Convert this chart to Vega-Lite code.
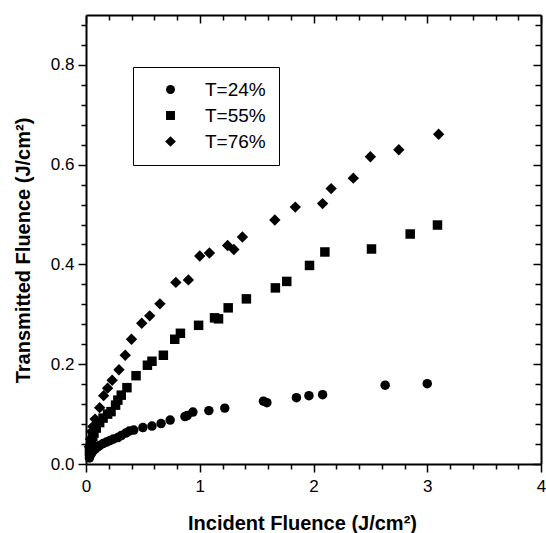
{
  "$schema": "https://vega.github.io/schema/vega-lite/v6.json",
  "width": 455,
  "height": 449,
  "autosize": "none",
  "padding": {"left": 86, "top": 15, "right": 5, "bottom": 69},
  "background": "white",
  "config": {
    "view": {"stroke": null},
    "font": "Liberation Sans",
    "axis": {
      "grid": false,
      "domainColor": "black",
      "domainWidth": 2,
      "tickColor": "black",
      "tickWidth": 1.5,
      "labelColor": "black",
      "labelFont": "Liberation Sans",
      "labelFontSize": 17,
      "labelOverlap": false,
      "titleFont": "Liberation Sans",
      "titleFontSize": 20,
      "titleFontWeight": "bold",
      "titleColor": "black"
    }
  },
  "data": {
    "values": [
      {"series": "T=24%", "inc": 0.03, "trans": 0.012},
      {"series": "T=24%", "inc": 0.04, "trans": 0.018},
      {"series": "T=24%", "inc": 0.05, "trans": 0.022},
      {"series": "T=24%", "inc": 0.065, "trans": 0.027},
      {"series": "T=24%", "inc": 0.08, "trans": 0.030},
      {"series": "T=24%", "inc": 0.10, "trans": 0.034},
      {"series": "T=24%", "inc": 0.12, "trans": 0.037},
      {"series": "T=24%", "inc": 0.15, "trans": 0.041},
      {"series": "T=24%", "inc": 0.18, "trans": 0.044},
      {"series": "T=24%", "inc": 0.21, "trans": 0.047},
      {"series": "T=24%", "inc": 0.24, "trans": 0.050},
      {"series": "T=24%", "inc": 0.28, "trans": 0.053},
      {"series": "T=24%", "inc": 0.31, "trans": 0.057},
      {"series": "T=24%", "inc": 0.35, "trans": 0.062},
      {"series": "T=24%", "inc": 0.38, "trans": 0.066},
      {"series": "T=24%", "inc": 0.42, "trans": 0.068},
      {"series": "T=24%", "inc": 0.50, "trans": 0.073},
      {"series": "T=24%", "inc": 0.58, "trans": 0.076},
      {"series": "T=24%", "inc": 0.66, "trans": 0.081},
      {"series": "T=24%", "inc": 0.74, "trans": 0.088},
      {"series": "T=24%", "inc": 0.87, "trans": 0.095},
      {"series": "T=24%", "inc": 0.89, "trans": 0.097},
      {"series": "T=24%", "inc": 0.94, "trans": 0.104},
      {"series": "T=24%", "inc": 1.08, "trans": 0.107},
      {"series": "T=24%", "inc": 1.22, "trans": 0.112},
      {"series": "T=24%", "inc": 1.56, "trans": 0.126},
      {"series": "T=24%", "inc": 1.59, "trans": 0.123},
      {"series": "T=24%", "inc": 1.85, "trans": 0.133},
      {"series": "T=24%", "inc": 1.96, "trans": 0.137},
      {"series": "T=24%", "inc": 2.08, "trans": 0.139},
      {"series": "T=24%", "inc": 2.63, "trans": 0.158},
      {"series": "T=24%", "inc": 3.00, "trans": 0.161},
      {"series": "T=55%", "inc": 0.03, "trans": 0.025},
      {"series": "T=55%", "inc": 0.04, "trans": 0.035},
      {"series": "T=55%", "inc": 0.05, "trans": 0.045},
      {"series": "T=55%", "inc": 0.06, "trans": 0.055},
      {"series": "T=55%", "inc": 0.07, "trans": 0.062},
      {"series": "T=55%", "inc": 0.09, "trans": 0.072},
      {"series": "T=55%", "inc": 0.12, "trans": 0.083},
      {"series": "T=55%", "inc": 0.15, "trans": 0.092},
      {"series": "T=55%", "inc": 0.19, "trans": 0.100},
      {"series": "T=55%", "inc": 0.22, "trans": 0.105},
      {"series": "T=55%", "inc": 0.26, "trans": 0.118},
      {"series": "T=55%", "inc": 0.28, "trans": 0.128},
      {"series": "T=55%", "inc": 0.31, "trans": 0.138},
      {"series": "T=55%", "inc": 0.36, "trans": 0.153},
      {"series": "T=55%", "inc": 0.44, "trans": 0.177},
      {"series": "T=55%", "inc": 0.54, "trans": 0.198},
      {"series": "T=55%", "inc": 0.58, "trans": 0.206},
      {"series": "T=55%", "inc": 0.68, "trans": 0.218},
      {"series": "T=55%", "inc": 0.78, "trans": 0.250},
      {"series": "T=55%", "inc": 0.83, "trans": 0.262},
      {"series": "T=55%", "inc": 0.99, "trans": 0.278},
      {"series": "T=55%", "inc": 1.13, "trans": 0.293},
      {"series": "T=55%", "inc": 1.165, "trans": 0.291},
      {"series": "T=55%", "inc": 1.25, "trans": 0.313},
      {"series": "T=55%", "inc": 1.41, "trans": 0.331},
      {"series": "T=55%", "inc": 1.665, "trans": 0.353},
      {"series": "T=55%", "inc": 1.765, "trans": 0.366},
      {"series": "T=55%", "inc": 1.965, "trans": 0.398},
      {"series": "T=55%", "inc": 2.10, "trans": 0.425},
      {"series": "T=55%", "inc": 2.51, "trans": 0.431},
      {"series": "T=55%", "inc": 2.85, "trans": 0.461},
      {"series": "T=55%", "inc": 3.09, "trans": 0.479},
      {"series": "T=76%", "inc": 0.03, "trans": 0.035},
      {"series": "T=76%", "inc": 0.04, "trans": 0.050},
      {"series": "T=76%", "inc": 0.05, "trans": 0.065},
      {"series": "T=76%", "inc": 0.06, "trans": 0.075},
      {"series": "T=76%", "inc": 0.08, "trans": 0.090},
      {"series": "T=76%", "inc": 0.12, "trans": 0.113},
      {"series": "T=76%", "inc": 0.155, "trans": 0.137},
      {"series": "T=76%", "inc": 0.19, "trans": 0.152},
      {"series": "T=76%", "inc": 0.23, "trans": 0.168},
      {"series": "T=76%", "inc": 0.29, "trans": 0.189},
      {"series": "T=76%", "inc": 0.345, "trans": 0.218},
      {"series": "T=76%", "inc": 0.40, "trans": 0.250},
      {"series": "T=76%", "inc": 0.49, "trans": 0.282},
      {"series": "T=76%", "inc": 0.56, "trans": 0.297},
      {"series": "T=76%", "inc": 0.65, "trans": 0.321},
      {"series": "T=76%", "inc": 0.79, "trans": 0.364},
      {"series": "T=76%", "inc": 0.90, "trans": 0.369},
      {"series": "T=76%", "inc": 1.00, "trans": 0.417},
      {"series": "T=76%", "inc": 1.085, "trans": 0.423},
      {"series": "T=76%", "inc": 1.245, "trans": 0.438},
      {"series": "T=76%", "inc": 1.30, "trans": 0.430},
      {"series": "T=76%", "inc": 1.375, "trans": 0.455},
      {"series": "T=76%", "inc": 1.66, "trans": 0.489},
      {"series": "T=76%", "inc": 1.84, "trans": 0.515},
      {"series": "T=76%", "inc": 2.08, "trans": 0.522},
      {"series": "T=76%", "inc": 2.155, "trans": 0.552},
      {"series": "T=76%", "inc": 2.35, "trans": 0.573},
      {"series": "T=76%", "inc": 2.50, "trans": 0.616},
      {"series": "T=76%", "inc": 2.75, "trans": 0.630},
      {"series": "T=76%", "inc": 3.10, "trans": 0.661}
    ]
  },
  "resolve": {"axis": {"x": "independent", "y": "independent"}},
  "layer": [
    {
      "mark": {"type": "point", "filled": true, "color": "black", "opacity": 1, "size": 90},
      "encoding": {
        "x": {
          "field": "inc", "type": "quantitative",
          "scale": {"domain": [0, 4], "nice": false, "zero": true},
          "axis": {
            "orient": "bottom",
            "title": "Incident Fluence (J/cm²)",
            "values": [0, 0.2, 0.4, 0.6, 0.8, 1, 1.2, 1.4, 1.6, 1.8, 2, 2.2, 2.4, 2.6, 2.8, 3, 3.2, 3.4, 3.6, 3.8, 4],
            "labelExpr": "abs(datum.value - round(datum.value)) < 1e-6 ? '' + round(datum.value) : ''",
            "labelFlush": false,
            "labelPadding": 6,
            "tickSize": {"condition": {"test": "abs(datum.value - round(datum.value)) < 1e-6", "value": 8}, "value": 5},
            "titleX": 216,
            "titleY": 59,
            "titleBaseline": "middle",
            "titleAlign": "center"
          }
        },
        "y": {
          "field": "trans", "type": "quantitative",
          "scale": {"domain": [0, 0.9], "nice": false, "zero": true},
          "axis": {
            "orient": "left",
            "title": "Transmitted Fluence (J/cm²)",
            "values": [0, 0.04, 0.08, 0.12, 0.16, 0.2, 0.24, 0.28, 0.32, 0.36, 0.4, 0.44, 0.48, 0.52, 0.56, 0.6, 0.64, 0.68, 0.72, 0.76, 0.8, 0.84, 0.88],
            "labelExpr": "abs(datum.value * 5 - round(datum.value * 5)) < 1e-6 ? format(datum.value, '.1f') : ''",
            "labelPadding": 4,
            "tickSize": {"condition": {"test": "abs(datum.value * 5 - round(datum.value * 5)) < 1e-6", "value": 8}, "value": 5},
            "titleX": -63,
            "titleY": 235,
            "titleBaseline": "middle",
            "titleAlign": "center",
            "titleAngle": -90
          }
        },
        "shape": {
          "field": "series", "type": "nominal",
          "scale": {"domain": ["T=24%", "T=55%", "T=76%"], "range": ["circle", "square", "M-1.2,0L0,-1.2L1.2,0L0,1.2Z"]},
          "legend": {
            "title": null,
            "orient": "none",
            "legendX": 47,
            "legendY": 52,
            "strokeColor": "black",
            "fillColor": "white",
            "padding": 13,
            "symbolOffset": 15,
            "symbolSize": 80,
            "symbolFillColor": "black",
            "symbolStrokeWidth": 0,
            "labelOffset": 25,
            "labelFontSize": 19,
            "labelFont": "Liberation Sans",
            "labelColor": "black",
            "rowPadding": 6,
            "encode": {"legend": {"update": {"strokeWidth": {"value": 1.5}}}}
          }
        }
      }
    },
    {
      "mark": {"type": "point", "filled": true, "opacity": 0},
      "encoding": {
        "x": {
          "field": "inc", "type": "quantitative",
          "axis": {
            "orient": "top",
            "title": null,
            "labels": false,
            "values": [0, 0.2, 0.4, 0.6, 0.8, 1, 1.2, 1.4, 1.6, 1.8, 2, 2.2, 2.4, 2.6, 2.8, 3, 3.2, 3.4, 3.6, 3.8, 4],
            "tickSize": {"condition": {"test": "abs(datum.value - round(datum.value)) < 1e-6", "value": -8}, "value": -5}
          }
        },
        "y": {
          "field": "trans", "type": "quantitative",
          "axis": {
            "orient": "right",
            "title": null,
            "labels": false,
            "values": [0, 0.04, 0.08, 0.12, 0.16, 0.2, 0.24, 0.28, 0.32, 0.36, 0.4, 0.44, 0.48, 0.52, 0.56, 0.6, 0.64, 0.68, 0.72, 0.76, 0.8, 0.84, 0.88],
            "tickSize": {"condition": {"test": "abs(datum.value * 5 - round(datum.value * 5)) < 1e-6", "value": -8}, "value": -6}
          }
        }
      }
    }
  ]
}
